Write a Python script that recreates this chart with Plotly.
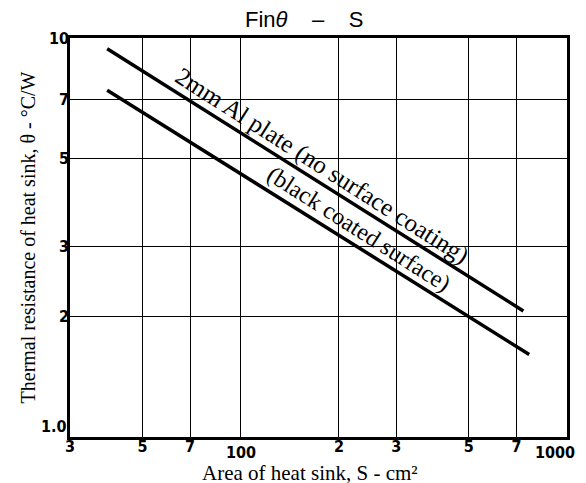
import math
import plotly.graph_objects as go

# Data (log-log)
area_no_coat = [39, 735]
theta_no_coat = [9.4, 2.07]
area_black = [39, 766]
theta_black = [7.4, 1.61]

x_tickvals = [30, 50, 70, 100, 200, 300, 500, 700, 1000]
x_ticktext = ["3", "5", "7", "", "2", "3", "5", "7", ""]
x_low_labels = [(100, "100"), (1000, "1000")]
y_tickvals = [1, 2, 3, 5, 7, 10]
y_ticktext = ["", "2", "3", "5", "7", "10"]
y_bottom_label = (1, "1.0")

label_no_coat = "2mm Al plate (no surface coating)"
label_black = "(black coated surface)"
label_no_coat_pos = (177.6, 4.78)
label_black_pos = (230.5, 3.32)

tick_font = dict(family="DejaVu Sans Condensed, Liberation Sans Narrow, Liberation Sans", size=16, color="black", weight="bold")
serif = "Liberation Serif, DejaVu Serif, serif"

fig = go.Figure()
for xs, ys in [(area_no_coat, theta_no_coat), (area_black, theta_black)]:
    fig.add_trace(go.Scatter(x=xs, y=ys, mode="lines",
                             line=dict(color="black", width=3.5),
                             showlegend=False, hoverinfo="skip"))

annotations = []
for v, t in x_low_labels:
    annotations.append(dict(x=math.log10(v), y=0, xref="x", yref="paper",
                            text=t, showarrow=False, yanchor="top",
                            xanchor="right" if v == 1000 else "center",
                            xshift=10 if v == 1000 else 0,
                            yshift=-4, font=tick_font))
annotations.append(dict(x=0, y=math.log10(y_bottom_label[0]), xref="paper", yref="y",
                        text=y_bottom_label[1], showarrow=False, xanchor="right",
                        yanchor="bottom", xshift=-1, yshift=-1, font=tick_font))
annotations.append(dict(x=math.log10(label_no_coat_pos[0]), y=math.log10(label_no_coat_pos[1]),
                        xref="x", yref="y", text=label_no_coat, showarrow=False, textangle=32.5,
                        font=dict(family=serif, size=25, color="black")))
annotations.append(dict(x=math.log10(label_black_pos[0]), y=math.log10(label_black_pos[1]),
                        xref="x", yref="y", text=label_black, showarrow=False, textangle=32.5,
                        font=dict(family=serif, size=24, color="black")))
annotations.append(dict(x=0.47, y=1, xref="paper", yref="paper", yanchor="bottom",
                        yshift=4, showarrow=False,
                        text="Fin<i>θ</i>\u00a0\u00a0\u00a0 –\u00a0\u00a0\u00a0 S",
                        font=dict(family="Liberation Sans, Arial, sans-serif", size=22, color="black")))
annotations.append(dict(x=0.483, y=-0.09, xref="paper", yref="paper", yanchor="middle",
                        showarrow=False, text="Area of heat sink, S - cm²",
                        font=dict(family=serif, size=21, color="black")))

fig.update_layout(
    width=586, height=483,
    margin=dict(l=70, r=19, t=38, b=46),
    paper_bgcolor="white", plot_bgcolor="white",
    annotations=annotations,
    xaxis=dict(type="log", range=[math.log10(30), 3], automargin=False,
               tickvals=x_tickvals, ticktext=x_ticktext, ticks="",
               tickfont=tick_font, ticklabelstandoff=-7,
               showgrid=True, gridcolor="black", gridwidth=1.3,
               showline=True, linecolor="black", linewidth=2.5, mirror=True,
               zeroline=False),
    yaxis=dict(type="log", range=[0, 1], automargin=False,
               tickvals=y_tickvals, ticktext=y_ticktext, ticks="",
               tickfont=tick_font, ticklabelstandoff=-5,
               showgrid=True, gridcolor="black", gridwidth=1.3,
               showline=True, linecolor="black", linewidth=2.5, mirror=True,
               zeroline=False,
               title=dict(text="Thermal resistance of heat sink, θ - °C/W", standoff=9,
                          font=dict(family=serif, size=20, color="black"))),
)

fig.write_html("out.html", config={"displayModeBar": False},
               post_script="document.body.style.margin='0';document.body.style.overflow='hidden';")
